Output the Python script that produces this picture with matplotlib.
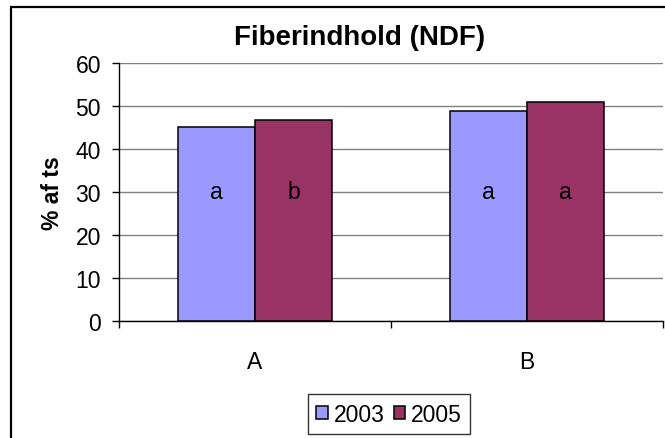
import matplotlib
matplotlib.use("Agg")
import matplotlib.pyplot as plt
import numpy as np
from matplotlib.patches import Rectangle

plt.rcParams['font.family'] = ['Liberation Sans', 'DejaVu Sans']

categories = ["A", "B"]
series = ["2003", "2005"]
values_2003 = [45.2, 48.8]
values_2005 = [46.7, 50.9]
letters_2003 = ["a", "a"]
letters_2005 = ["b", "a"]
colors = ["#9999FF", "#993366"]

fs = 16.5

fig = plt.figure(figsize=(6.65, 4.39), dpi=100)

# outer chart-area frame (right and bottom edges fall outside the picture)
fig.patches.append(Rectangle((11 / 665, -0.1), 1.2, 1 - 8 / 439 + 0.1,
                             transform=fig.transFigure, fill=False,
                             edgecolor="black", linewidth=1.6))

ax = fig.add_axes([119 / 665, 1 - 322 / 439, 544 / 665, 258 / 439])

x = np.arange(len(categories))
w = 0.283
ax.bar(x - w / 2, values_2003, w, color=colors[0], edgecolor="black",
       linewidth=1.1, label=series[0], zorder=3)
ax.bar(x + w / 2, values_2005, w, color=colors[1], edgecolor="black",
       linewidth=1.1, label=series[1], zorder=3)

for xi, l in zip(x - w / 2, letters_2003):
    ax.text(xi, 30, l, ha="center", va="center", fontsize=fs, zorder=4)
for xi, l in zip(x + w / 2, letters_2005):
    ax.text(xi, 30, l, ha="center", va="center", fontsize=fs, zorder=4)

ax.set_xlim(-0.5, 1.5)
ax.set_ylim(0, 60)
ax.set_yticks(range(0, 61, 10))
ax.yaxis.grid(True, color="#808080", linewidth=1.0, zorder=0)
ax.set_axisbelow(True)

ax.set_xticks(x)
ax.set_xticklabels(categories)
ax.set_xticks([-0.5, 0.5, 1.5], minor=True)
ax.tick_params(axis="x", which="major", length=0, pad=21, labelsize=fs)
ax.tick_params(axis="x", which="minor", length=5, width=1, direction="out")
ax.tick_params(axis="y", length=5, width=1, direction="out", pad=8, labelsize=fs)

for s in ["top", "right"]:
    ax.spines[s].set_visible(False)
for s in ["left", "bottom"]:
    ax.spines[s].set_linewidth(1.0)

ax.set_ylabel("% af ts", fontsize=fs, fontweight="bold", labelpad=8)
fig.text(360 / 665, 1 - 38 / 439, "Fiberindhold (NDF)", ha="center", va="center",
         fontsize=20, fontweight="bold")

leg = fig.legend(loc="center", bbox_to_anchor=(389 / 665, 1 - 415 / 439), ncol=2,
                 fontsize=fs, frameon=True, fancybox=False, handlelength=0.5,
                 handleheight=0.5, handletextpad=0.25, columnspacing=0.4,
                 borderpad=0.35, edgecolor="black")
leg.get_frame().set_linewidth(1.0)

fig.savefig("out.png", dpi=100)
